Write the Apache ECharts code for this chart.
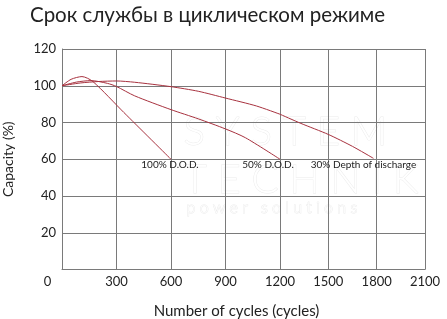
<!DOCTYPE html>
<html>
<head>
<meta charset="utf-8">
<script src="https://cdn.jsdelivr.net/npm/echarts@6/dist/echarts.min.js"></script>
<style>
html,body{margin:0;padding:0;background:#fff;}
#chart{width:447px;height:319px;}
</style>
</head>
<body>
<div id="chart"></div>
<script>
// ---- data ----
const titleText = 'Срок службы в цикличeском режиме';
const xName = 'Number of cycles (cycles)';
const yName = 'Capacity (%)';
const xTicksA = [0, 300, 600, 900, 1200];      // first axis segment
const xTicksB = [1200, 1500, 1800, 2100];      // second axis segment
const yTicks = [0, 20, 40, 60, 80, 100, 120];
const seriesNames = ['100% D.O.D.', '50% D.O.D.', '30% Depth of discharge'];
// [cycles, capacity %]
const dod100 = [[0,100],[50,103.5],[110,105],[170,102.3],[340,85.5],[600,60]];
const dod50  = [[0,100],[80,102],[160,102.8],[250,101.3],[300,99.6],[400,94.5],[600,87],[750,82],[900,76.5],[1010,71.7],[1200,60]];
const dod30  = [[0,100],[100,101.5],[200,102.3],[300,102.6],[400,101.9],[600,99.5],[750,97],[900,93.3],[1070,89],[1200,84.5],[1330,79.5],[1500,73.5],[1650,67],[1780,60.5]];

// ---- styling ----
const FONT = 'Lato';
const LINE = '#a8323f';
const GRIDC = '#7a7a7a';
const TXT = '#222';

const splitAt = xTicksA[xTicksA.length - 1];
const dod30A = dod30.filter(p => p[0] <= splitAt);
const dod30B = dod30.filter(p => p[0] >= splitAt);

function withEndLabel(data, text, offset) {
  return data.map((p, i) => i === data.length - 1 ? {
    value: p,
    label: { show: true, position: 'bottom', distance: 1, offset: offset,
      formatter: text, color: TXT, fontSize: 10, fontFamily: FONT }
  } : { value: p });
}

const gridTop = 49, gridH = 220.5;
const axisCommon = {
  type: 'value',
  axisLine: { show: true, lineStyle: { color: GRIDC, width: 1 } },
  axisTick: { show: false },
  splitLine: { show: true, lineStyle: { color: GRIDC, width: 1 } }
};

const lineCommon = {
  type: 'line', smooth: 0.25, symbol: 'circle', symbolSize: 0,
  showSymbol: true, lineStyle: { color: LINE, width: 1 }, itemStyle: { color: LINE },
  silent: true, animation: false, z: 3
};

const chart = echarts.init(document.getElementById('chart'), null, { renderer: 'canvas' });
chart.setOption({
  animation: false,
  backgroundColor: '#fff',
  title: {
    text: titleText, left: 25, top: 0,
    textStyle: { fontFamily: FONT, fontSize: 20.5, fontWeight: 'normal', color: TXT }
  },
  graphic: [
    { type: 'text', left: 183, top: 112, z: 0, silent: true,
      style: { text: 'S Y S T E M', font: '300 40px ' + FONT, fill: '#fff', stroke: '#ececec', lineWidth: 1 } },
    { type: 'text', left: 183, top: 160, z: 0, silent: true,
      style: { text: 'T E C H N I K', font: '300 40px ' + FONT, fill: '#fff', stroke: '#ececec', lineWidth: 1 } },
    { type: 'text', left: 186, top: 199, z: 0, silent: true,
      style: { text: 'p o w e r   s o l u t i o n s', font: '300 16px ' + FONT, fill: '#fff', stroke: '#ececec', lineWidth: 1 } },
    { type: 'text', x: 236.5, y: 311, z: 5, silent: true,
      style: { text: xName, font: '15px ' + FONT, fill: TXT, textAlign: 'center', textVerticalAlign: 'middle' } }
  ],
  grid: [
    { left: 59, width: 221, top: gridTop, height: gridH, containLabel: false },
    { left: 280, width: 145, top: gridTop, height: gridH, containLabel: false }
  ],
  xAxis: [
    Object.assign({}, axisCommon, {
      gridIndex: 0, min: xTicksA[0], max: splitAt, interval: 300,
      axisLabel: { margin: 6, color: TXT, fontSize: 13, fontFamily: FONT,
        formatter: v => v === 0 ? '{z|0}' : String(v),
        rich: { z: { padding: [0, 29, 0, 0], fontSize: 13, fontFamily: FONT, color: TXT } } }
    }),
    Object.assign({}, axisCommon, {
      gridIndex: 1, min: splitAt, max: xTicksB[xTicksB.length - 1], interval: 300,
      axisLabel: { margin: 6, color: TXT, fontSize: 13, fontFamily: FONT,
        formatter: v => v === splitAt ? '' : String(v) }
    })
  ],
  yAxis: [
    Object.assign({}, axisCommon, {
      gridIndex: 0, min: yTicks[0], max: yTicks[yTicks.length - 1], interval: 20,
      name: yName, nameLocation: 'middle', nameGap: 47, nameRotate: 90,
      nameTextStyle: { fontFamily: FONT, fontSize: 14, color: TXT },
      axisLabel: { margin: 6, color: TXT, fontSize: 13, fontFamily: FONT,
        formatter: v => v === 0 ? '' : String(v) }
    }),
    Object.assign({}, axisCommon, {
      gridIndex: 1, min: yTicks[0], max: yTicks[yTicks.length - 1], interval: 20,
      axisLine: { show: false }, axisLabel: { show: false }
    })
  ],
  series: [
    Object.assign({}, lineCommon, { name: seriesNames[0], xAxisIndex: 0, yAxisIndex: 0,
      data: withEndLabel(dod100, seriesNames[0], [-1, 0]) }),
    Object.assign({}, lineCommon, { name: seriesNames[1], xAxisIndex: 0, yAxisIndex: 0,
      data: withEndLabel(dod50, seriesNames[1], [-12, 0]) }),
    Object.assign({}, lineCommon, { name: seriesNames[2], xAxisIndex: 0, yAxisIndex: 0,
      data: dod30A.map(p => ({ value: p })) }),
    Object.assign({}, lineCommon, { name: seriesNames[2], xAxisIndex: 1, yAxisIndex: 1,
      data: withEndLabel(dod30B, seriesNames[2], [-10, 0]) })
  ]
});
</script>
</body>
</html>
